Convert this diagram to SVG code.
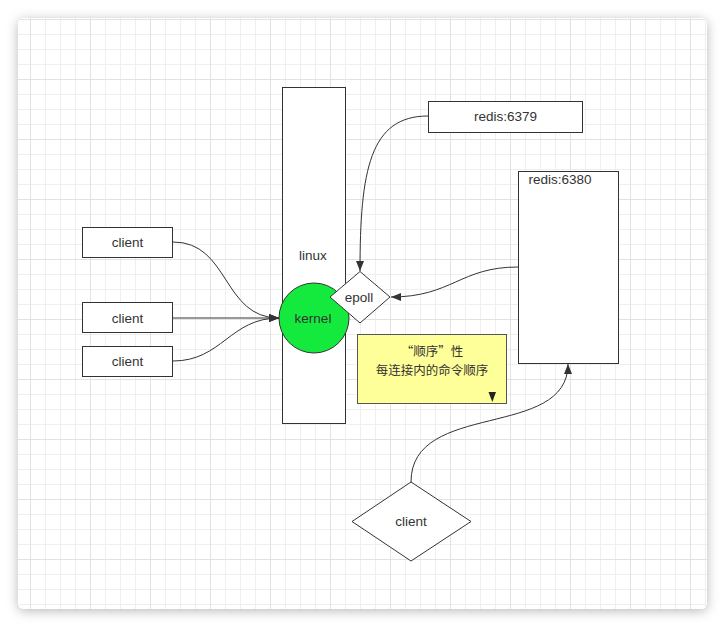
<svg xmlns="http://www.w3.org/2000/svg" width="725" height="628" viewBox="0 0 725 628">
<defs>
<filter id="sh" x="-10%" y="-10%" width="120%" height="120%">
<feDropShadow dx="0" dy="2" stdDeviation="6" flood-color="#000" flood-opacity="0.28"/>
</filter>
<pattern id="gmin" x="0" y="4" width="15" height="15" patternUnits="userSpaceOnUse">
<path d="M0,0.5 H15 M0.5,0 V15" fill="none" stroke="#efefef" stroke-width="1"/>
</pattern>
<pattern id="gmaj" x="30" y="19" width="60" height="60" patternUnits="userSpaceOnUse">
<path d="M0,0.5 H60 M0.5,0 V60" fill="none" stroke="#e2e2e2" stroke-width="1"/>
</pattern>
<marker id="arr" viewBox="0 0 10 10" refX="10" refY="5" markerWidth="10" markerHeight="10" markerUnits="userSpaceOnUse" orient="auto">
<path d="M0,1 L10,5 L0,9 Z" fill="#333"/>
</marker>
<style>
.box{fill:#fff;stroke:#333;stroke-width:1}
.t{font-family:"Liberation Sans",Arial,"Noto Sans CJK SC",sans-serif;font-size:13.5px;fill:#333;text-anchor:middle}
.cn{font-family:"Noto Sans CJK SC","Liberation Sans",sans-serif;font-size:12.5px;fill:#333;text-anchor:middle}
.c{fill:none;stroke:#333;stroke-width:1;marker-end:url(#arr)}
</style>
</defs>
<rect width="725" height="628" fill="#fff"/>
<rect x="18" y="18" width="689" height="591" rx="6" fill="#fff" filter="url(#sh)"/>
<rect x="18" y="18" width="689" height="591" rx="6" fill="url(#gmin)"/>
<rect x="18" y="18" width="689" height="591" rx="6" fill="url(#gmaj)"/>

<g id="linux"><rect class="box" x="282.5" y="87.5" width="63" height="336"/><text class="t" x="313" y="260">linux</text></g>
<g id="kernel"><circle cx="314" cy="318" r="35" fill="#14ea3e" stroke="#333"/><text class="t" x="313" y="323">kernel</text></g>
<g id="epoll"><polygon class="box" points="360,271.5 390,297 360,323 330,297"/><text class="t" x="359" y="302">epoll</text></g>
<g id="redis6379"><rect class="box" x="428.5" y="101.5" width="154" height="31"/><text class="t" x="505.5" y="121">redis:6379</text></g>
<g id="redis6380"><rect class="box" x="518.5" y="171.5" width="100" height="192"/><text class="t" x="560" y="184">redis:6380</text></g>
<g id="client1"><rect class="box" x="82.5" y="227.5" width="90" height="30"/><text class="t" x="127.5" y="247">client</text></g>
<g id="client2"><rect class="box" x="82.5" y="302.5" width="90" height="30"/><text class="t" x="127.5" y="323">client</text></g>
<g id="client3"><rect class="box" x="82.5" y="346.5" width="90" height="30"/><text class="t" x="127.5" y="366">client</text></g>
<g id="note"><rect x="357.5" y="334.5" width="149" height="69" fill="#ffff99" stroke="#555"/><text class="cn" x="432" y="356">“顺序”性</text><text class="cn" x="432" y="374.5">每连接内的命令顺序</text><polygon points="488.5,392 496,392 492.3,402" fill="#222"/></g>
<g id="client4"><polygon class="box" points="411,482 471,521.5 411,561 352,521.5"/><text class="t" x="411" y="526">client</text></g>

<g id="connectors">
<path class="c" d="M173,242 C230,242 222,318 279,318"/>
<path class="c" d="M173,318 L279,318"/>
<path class="c" d="M173,361 C222,361 230,318 279,318"/>
<path class="c" d="M428,116 C370,116 360,170 360,271"/>
<path class="c" d="M518,267 C460,267 452,297 391,297"/>
<path class="c" d="M411,482 C411,400 568,440 568,364"/>
</g>
</svg>
